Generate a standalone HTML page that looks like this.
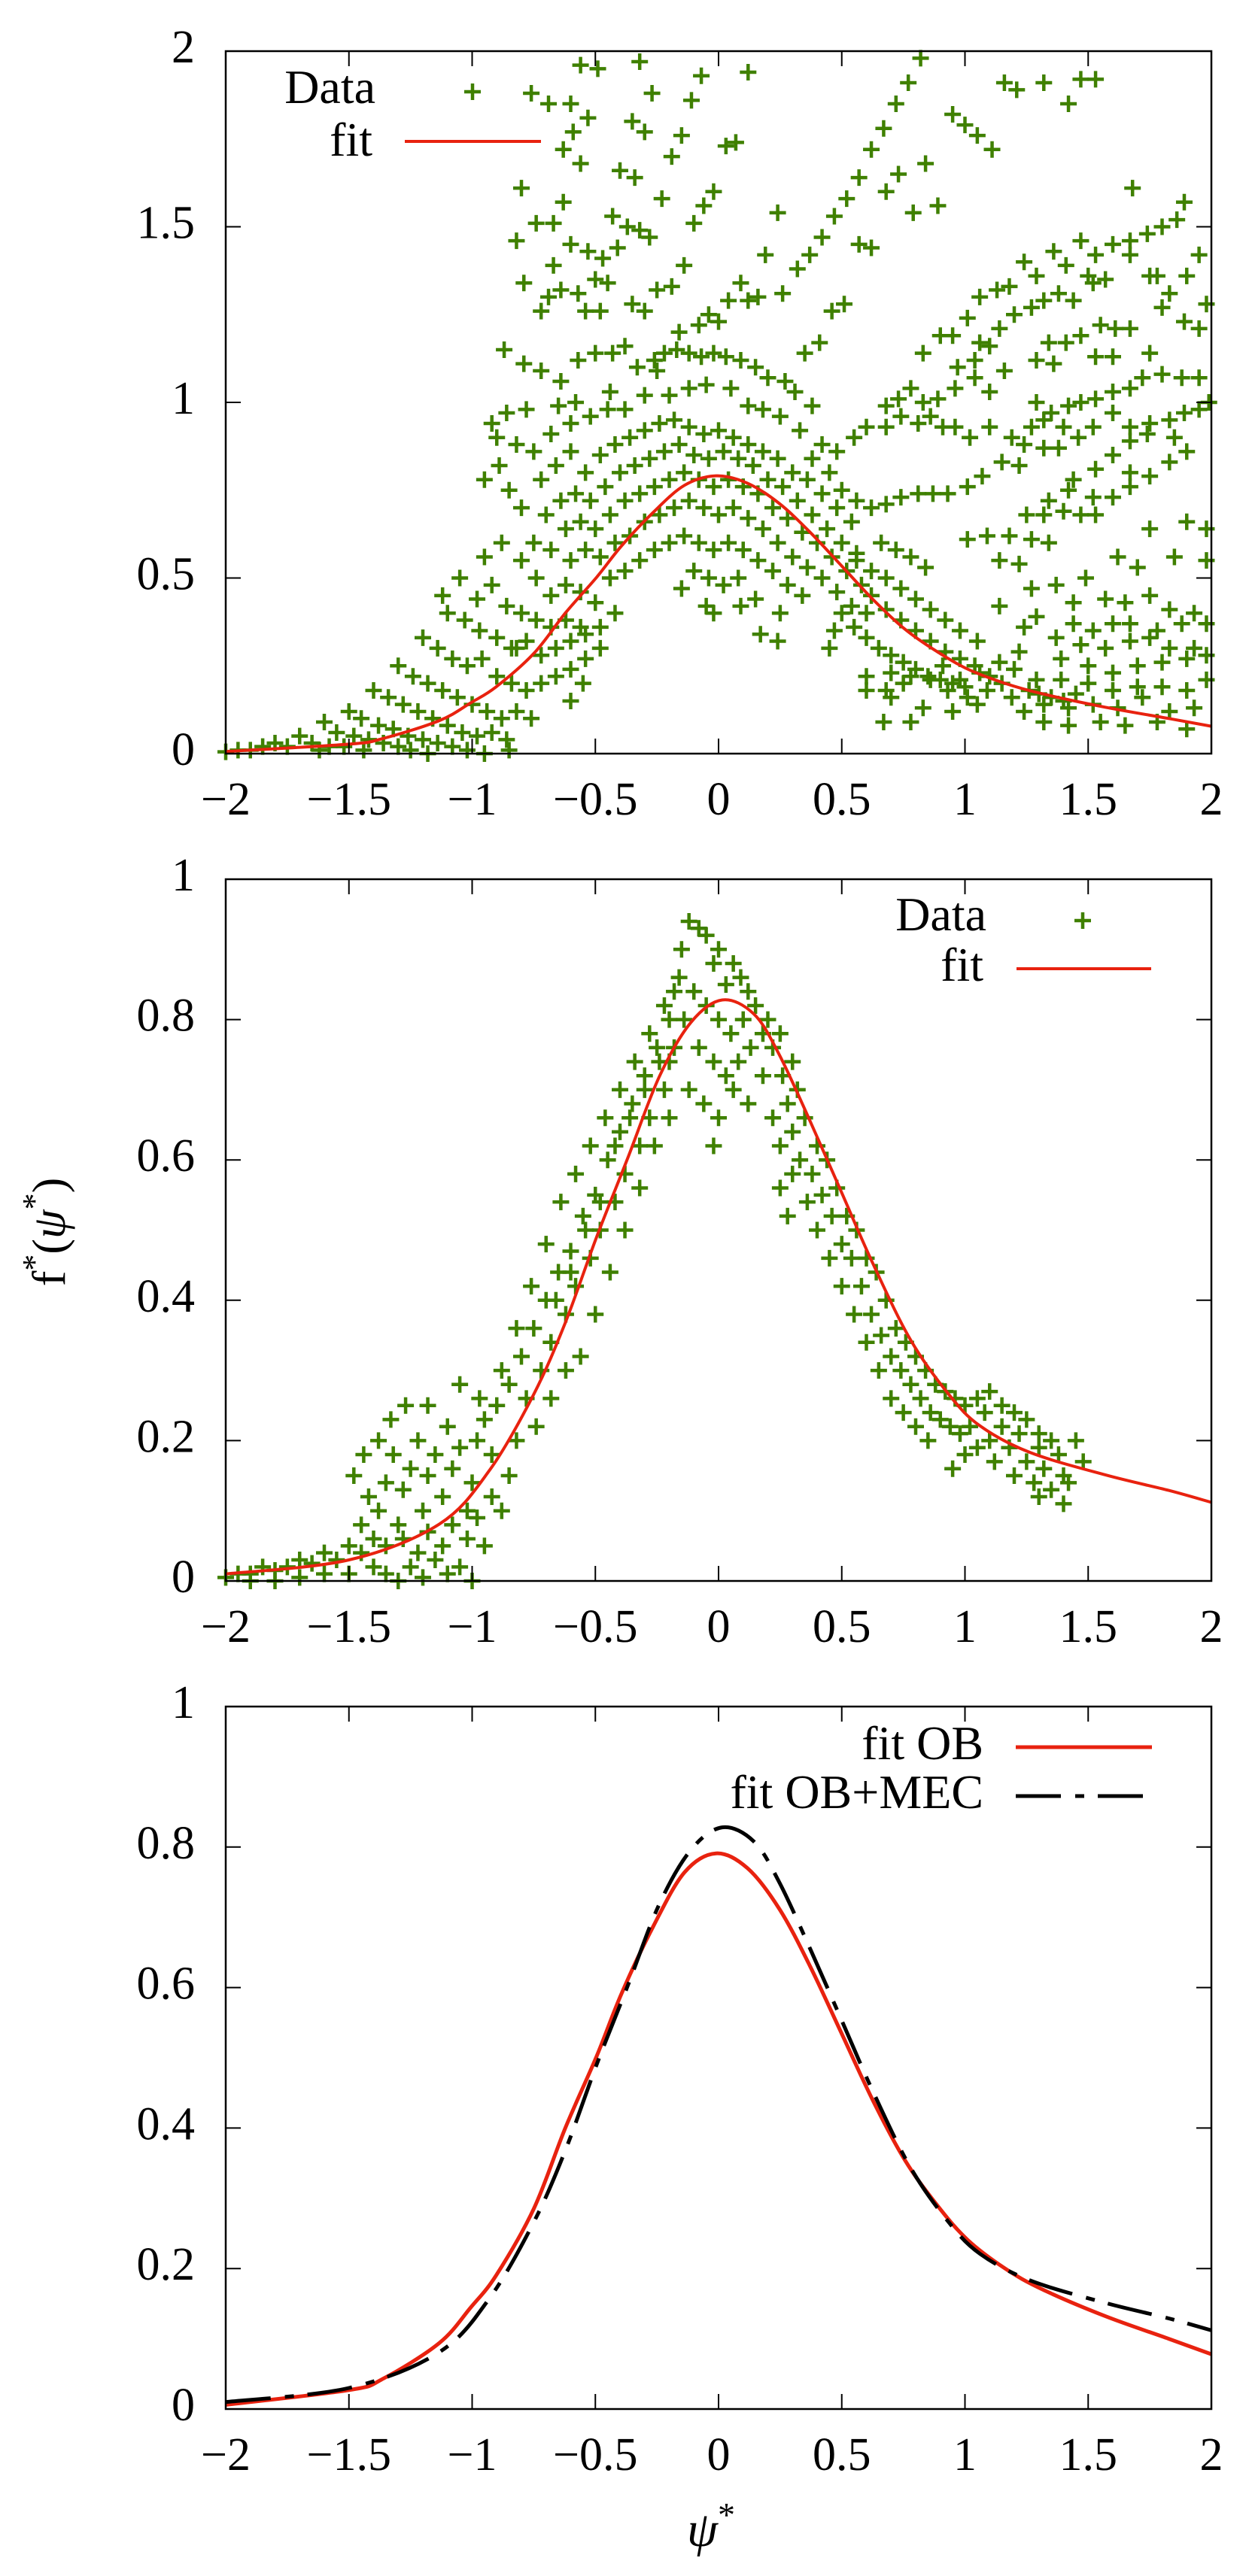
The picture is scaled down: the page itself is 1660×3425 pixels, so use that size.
<!DOCTYPE html>
<html>
<head>
<meta charset="utf-8">
<style>
  html, body { margin: 0; padding: 0; background: #fff; }
  svg { display: block; }
  text { font-family: "Liberation Serif", "DejaVu Serif", serif; fill: #000; }
</style>
</head>
<body>
<svg id="fig" width="1660" height="3425" viewBox="0 0 1660 3425" xmlns="http://www.w3.org/2000/svg">
  <rect x="0" y="0" width="1660" height="3425" fill="#fff"/>
  <g id="p1"></g>
  <g id="p2"></g>
  <g id="p3"></g>
  <text x="72" y="1638" font-size="62" text-anchor="middle" dominant-baseline="middle" transform="rotate(-90 72 1638)">f<tspan font-size="44" dy="-22">*</tspan><tspan dy="22">(</tspan><tspan font-style="italic">ψ</tspan><tspan font-size="44" dy="-22">*</tspan><tspan dy="22">)</tspan></text>
  <text x="945" y="3385" font-size="66" text-anchor="middle" font-style="italic">ψ<tspan font-size="46" dy="-26" font-style="normal">*</tspan></text>
</svg>
<script>
// ---------- data ----------
const xTicks = [-2, -1.5, -1, -0.5, 0, 0.5, 1, 1.5, 2];
const xTickLabels = ["−2", "−1.5", "−1", "−0.5", "0", "0.5", "1", "1.5", "2"];
const yTicksTop = [0, 0.5, 1, 1.5, 2];
const yTickLabelsTop = ["0", "0.5", "1", "1.5", "2"];
const yTicksLow = [0, 0.2, 0.4, 0.6, 0.8, 1];
const yTickLabelsLow = ["0", "0.2", "0.4", "0.6", "0.8", "1"];

// fit OB curve samples
const fitOBx = [-2, -1.5, -1.362, -1.133, -1.005, -0.903, -0.75, -0.622, -0.495, -0.393, -0.265, -0.138, -0.01, 0.117, 0.245, 0.372, 0.5, 0.628, 0.755, 0.883, 1.01, 1.163, 1.316, 1.571, 1.827, 2];
const fitOBy = [0.006, 0.027, 0.043, 0.094, 0.145, 0.19, 0.285, 0.40, 0.502, 0.592, 0.687, 0.764, 0.791, 0.770, 0.713, 0.63, 0.534, 0.438, 0.355, 0.292, 0.241, 0.2, 0.17, 0.132, 0.10, 0.078];
// fit OB+MEC curve samples
const fitMECx = [-2, -1.5, -1.133, -0.929, -0.75, -0.622, -0.495, -0.367, -0.24, -0.112, 0.015, 0.143, 0.245, 0.372, 0.5, 0.628, 0.78, 0.934, 1.061, 1.265, 1.571, 1.827, 2];
const fitMECy = [0.01, 0.03, 0.081, 0.158, 0.266, 0.368, 0.49, 0.604, 0.719, 0.796, 0.828, 0.808, 0.751, 0.655, 0.553, 0.451, 0.343, 0.266, 0.221, 0.183, 0.151, 0.129, 0.112];

// panel 1 data points [x, y]
const data1 = [
[-0.76,1.88],[-0.69,1.85],[-0.60,1.85],[-0.56,1.96],[-0.49,1.95],[-0.32,1.97],[-0.53,1.81],[-0.59,1.77],[-0.63,1.72],[-0.56,1.68],[-0.35,1.80],[-0.30,1.77],[-0.15,1.76],[-0.19,1.70],[-0.27,1.88],[-0.11,1.86],[-0.07,1.93],[0.12,1.94],[-0.40,1.66],[-0.34,1.64],[-0.80,1.61],[-0.63,1.57],[-0.74,1.51],[-0.67,1.51],[-0.82,1.46],[-0.60,1.45],[-0.53,1.43],[-0.47,1.41],[-0.41,1.44],[-0.67,1.39],[-0.79,1.34],[-0.69,1.30],[-0.64,1.32],[-0.57,1.31],[-0.50,1.35],[-0.45,1.34],[-0.72,1.26],[-0.54,1.26],[-0.48,1.26],[-0.43,1.53],[-0.37,1.50],[-0.32,1.49],[-0.28,1.47],[-0.23,1.58],[-0.10,1.51],[-0.06,1.56],[-0.02,1.60],[-0.14,1.39],[-0.25,1.32],[-0.19,1.33],[-0.35,1.28],[-0.30,1.26],[0.03,1.73],[0.07,1.74],[0.09,1.34],[0.04,1.29],[0.12,1.29],[0.16,1.30],[0.19,1.42],[0.26,1.31],[0.24,1.54],[0.32,1.38],[0.37,1.42],[0.42,1.47],[0.47,1.53],[0.52,1.58],[0.57,1.64],[0.62,1.72],[0.67,1.78],[0.72,1.85],[0.77,1.91],[0.82,1.98],[0.46,1.26],[0.51,1.28],[0.35,1.14],[0.41,1.17],[0.57,1.45],[0.62,1.44],[0.68,1.60],[0.73,1.65],[0.79,1.54],[0.84,1.68],[0.89,1.56],[0.95,1.82],[1.0,1.79],[1.05,1.76],[1.11,1.72],[1.16,1.91],[1.21,1.89],[1.32,1.91],[1.42,1.85],[1.47,1.92],[1.53,1.92],[1.68,1.61],
[1.06,1.30],[1.13,1.32],[1.18,1.33],[1.24,1.40],[1.29,1.36],[1.36,1.43],[1.41,1.39],[1.47,1.46],[1.53,1.42],[1.60,1.45],[1.67,1.46],[1.74,1.48],[1.80,1.50],[1.86,1.52],[1.89,1.57],[1.95,1.42],[1.98,1.28],[1.90,1.36],[1.78,1.36],[1.67,1.42],[1.57,1.35],[1.52,1.34],
[0.83,1.14],[0.90,1.19],[0.95,1.19],[1.01,1.24],[1.06,1.17],[1.10,1.16],[1.14,1.21],[1.20,1.25],[1.27,1.27],[1.32,1.29],[1.38,1.31],[1.44,1.29],[1.50,1.36],[1.55,1.22],[1.61,1.21],[1.67,1.21],[1.75,1.14],[1.83,1.31],[1.89,1.23],[1.95,1.21],[1.80,1.27],[1.75,1.36],
[0.68,0.99],[0.73,1.01],[0.78,1.04],[0.83,1.00],[0.89,1.01],[0.96,1.04],[1.04,1.07],[1.10,1.03],[0.97,1.10],[1.04,1.12],[1.16,1.09],[1.29,1.00],[1.35,0.97],[1.42,0.99],[1.47,1.00],[1.53,1.01],[1.60,1.03],[1.67,1.04],[1.72,1.07],[1.80,1.08],[1.88,1.07],[1.95,1.07],[1.99,1.00],[1.34,1.17],[1.41,1.17],[1.47,1.19],[1.53,1.13],[1.60,1.13],[1.29,1.12],[1.36,1.11],
[0.55,0.90],[0.60,0.93],[0.68,0.93],[0.74,0.96],[0.81,0.94],[0.86,0.96],[0.91,0.93],[0.96,0.93],[1.02,0.90],[1.10,0.93],[1.19,0.90],[1.27,0.93],[1.32,0.95],[1.40,0.93],[1.46,0.90],[1.52,0.93],[1.60,0.97],[1.67,0.93],[1.75,0.94],[1.83,0.95],[1.89,0.97],[1.95,0.98],[1.67,0.89],[1.74,0.91],[1.85,0.90],[1.90,0.86],[1.24,0.88],[1.32,0.87],[1.38,0.87],[1.15,0.83],[1.22,0.82],[1.07,0.79],[1.01,0.76],[0.93,0.74],[0.87,0.74],[0.81,0.74],[0.74,0.73],[0.68,0.71],[1.44,0.78],[1.53,0.81],[1.60,0.85],[1.67,0.80],[1.75,0.79],[1.83,0.83],[1.52,0.73],[1.60,0.73],[1.67,0.76],[1.42,0.75],[1.34,0.72],[1.32,0.68],[1.25,0.68],[1.40,0.69],[1.47,0.68],[1.53,0.68],[1.90,0.66],[1.98,0.64],[1.75,0.64],
[1.01,0.61],[1.09,0.62],[1.18,0.62],[1.27,0.61],[1.34,0.60],[1.14,0.55],[1.22,0.54],[1.62,0.56],[1.70,0.53],[1.85,0.56],[1.98,0.55],[1.49,0.50],[1.27,0.47],[1.37,0.48],[1.44,0.43],[1.57,0.44],[1.65,0.43],[1.75,0.45],[1.83,0.41],[1.93,0.40],[1.98,0.37],[1.29,0.39],[1.14,0.42],[1.24,0.36],[1.44,0.37],[1.52,0.35],[1.60,0.37],[1.67,0.37],[1.78,0.35],[1.88,0.37],[1.37,0.33],[1.47,0.31],[1.57,0.30],[1.67,0.32],[1.75,0.33],[1.83,0.30],[1.93,0.30],[1.39,0.27],[1.50,0.25],[1.60,0.23],[1.70,0.25],[1.80,0.26],[1.90,0.27],[1.98,0.28],[1.29,0.21],[1.39,0.21],[1.50,0.20],[1.60,0.18],[1.70,0.19],[1.80,0.19],[1.90,0.18],[1.98,0.21],[1.32,0.14],[1.42,0.13],[1.52,0.14],[1.62,0.13],[1.72,0.16],[1.83,0.12],[1.93,0.13],[1.42,0.08],[1.55,0.09],[1.65,0.08],[1.78,0.09],[1.90,0.07],[1.19,0.16],[1.24,0.12],[1.32,0.09],[1.09,0.18],[1.01,0.16],[0.93,0.18],[0.86,0.21],[0.78,0.22],[0.70,0.23],[0.60,0.22],[0.68,0.18],[0.60,0.18],[0.67,0.09],[0.78,0.09],[0.83,0.13],[0.98,0.21],[1.06,0.23],[0.91,0.25],[1.14,0.26],[1.22,0.29],
[-0.87,1.15],[-0.79,1.11],[-0.72,1.09],[-0.64,1.06],[-0.57,1.12],[-0.50,1.14],[-0.43,1.14],[-0.38,1.16],[-0.33,1.10],[-0.26,1.12],[-0.22,1.14],[-0.17,1.15],[-0.12,1.14],[-0.07,1.13],[-0.02,1.14],[0.03,1.13],[0.09,1.12],[0.15,1.10],[0.20,1.07],[0.27,1.06],[0.31,1.03],[0.38,0.99],[-0.08,1.22],[-0.04,1.25],[0.0,1.23],[-0.16,1.20],[-0.25,1.09],[-0.44,1.03],[-0.58,1.00],[-0.65,0.99],[-0.78,0.98],[-0.86,0.97],[-0.92,0.94],[-0.90,0.90],[-0.82,0.88],[-0.75,0.86],[-0.68,0.91],[-0.60,0.94],[-0.52,0.96],[-0.45,0.98],[-0.38,0.98],[-0.30,1.02],[-0.20,1.02],[-0.12,1.04],[-0.05,1.05],[0.05,1.04],[0.12,0.99],[0.18,0.98],[0.25,0.96],[0.33,0.92],[0.42,0.88],[0.48,0.86],
[-0.95,0.78],[-0.89,0.82],[-0.85,0.75],[-0.80,0.70],[-0.72,0.78],[-0.66,0.82],[-0.60,0.86],[-0.54,0.80],[-0.48,0.85],[-0.42,0.88],[-0.36,0.90],[-0.30,0.92],[-0.24,0.94],[-0.18,0.95],[-0.12,0.93],[-0.06,0.91],[0.0,0.92],[0.06,0.90],[0.12,0.88],[0.18,0.86],[0.24,0.84],[0.30,0.80],[0.36,0.78],[0.42,0.74],[0.48,0.70],[0.54,0.66],
[-0.70,0.68],[-0.64,0.72],[-0.58,0.74],[-0.52,0.72],[-0.46,0.76],[-0.40,0.80],[-0.34,0.82],[-0.28,0.84],[-0.22,0.86],[-0.16,0.88],[-0.10,0.85],[-0.04,0.84],[0.02,0.86],[0.08,0.84],[0.14,0.82],[0.20,0.78],[0.26,0.76],[0.32,0.72],[0.38,0.68],[0.44,0.64],[0.50,0.60],[0.56,0.57],
[-0.75,0.60],[-0.68,0.58],[-0.62,0.64],[-0.56,0.66],[-0.50,0.64],[-0.44,0.68],[-0.38,0.72],[-0.32,0.74],[-0.26,0.76],[-0.20,0.78],[-0.14,0.80],[-0.08,0.78],[-0.02,0.76],[0.04,0.78],[0.10,0.76],[0.16,0.74],[0.22,0.70],[0.28,0.67],[0.34,0.63],[0.40,0.60],[0.46,0.56],[0.52,0.52],[0.58,0.48],
[-0.60,0.55],[-0.54,0.58],[-0.48,0.56],[-0.42,0.60],[-0.36,0.62],[-0.30,0.66],[-0.24,0.68],[-0.18,0.70],[-0.12,0.72],[-0.06,0.70],[0.00,0.68],[0.06,0.70],[0.12,0.67],[0.18,0.64],[0.24,0.60],[0.30,0.56],[0.36,0.53],[0.42,0.50],[0.48,0.46],[0.54,0.42],[0.60,0.40],
[-0.44,0.50],[-0.38,0.52],[-0.32,0.55],[-0.26,0.58],[-0.20,0.60],[-0.14,0.62],[-0.08,0.60],[-0.02,0.58],[0.04,0.60],[0.10,0.58],[0.16,0.55],[0.22,0.52],[0.28,0.48],[0.34,0.45],[-0.10,0.52],[-0.04,0.50],[0.02,0.48],[0.08,0.50],[-0.02,0.40],[0.09,0.42],[0.15,0.44],[0.17,0.34],[0.25,0.40],[0.24,0.32],[-0.15,0.47],[-0.05,0.42],
[-0.95,0.56],[-0.88,0.60],[-0.80,0.55],[-0.74,0.50],[-0.68,0.45],[-0.62,0.48],[-0.56,0.46],[-0.50,0.43],[-1.05,0.50],[-0.98,0.44],[-0.92,0.48],[-0.86,0.42],[-0.80,0.40],[-0.74,0.38],[-0.68,0.36],[-0.62,0.38],[-0.56,0.36],[-1.10,0.40],[-1.03,0.38],[-0.97,0.35],[-0.90,0.33],[-0.84,0.30],[-0.78,0.32],[-0.72,0.28],[-0.66,0.30],[-0.60,0.32],[-0.54,0.34],[-0.48,0.36],[-1.20,0.33],[-1.14,0.30],[-1.08,0.27],[-1.02,0.25],[-0.96,0.27],[-0.90,0.22],[-0.84,0.20],[-0.78,0.18],[-0.72,0.20],[-0.66,0.22],[-0.60,0.24],[-0.54,0.27],[-0.48,0.30],[-0.42,0.40],[-1.30,0.25],[-1.24,0.22],[-1.18,0.20],[-1.12,0.18],[-1.06,0.16],[-1.00,0.14],[-0.94,0.12],[-0.88,0.10],[-0.82,0.12],[-0.76,0.10],[-1.40,0.18],[-1.34,0.16],[-1.28,0.14],[-1.22,0.12],[-1.16,0.10],[-1.10,0.08],[-1.04,0.06],[-0.98,0.05],[-0.92,0.06],[-0.86,0.04],[-1.50,0.12],[-1.45,0.10],[-1.38,0.08],[-1.32,0.07],[-1.26,0.05],[-1.20,0.04],[-1.14,0.03],[-1.08,0.02],[-1.02,0.01],[-1.60,0.09],[-1.55,0.06],[-1.48,0.05],[-1.42,0.04],[-1.36,0.03],[-1.30,0.02],[-1.70,0.05],[-1.65,0.03],[-1.58,0.02],[-1.52,0.02],[-1.80,0.03],[-1.75,0.02],[-1.85,0.02],[-1.90,0.01],[-1.95,0.01],[-2.0,0.005],[-1.62,0.01],[-1.44,0.01],[-1.25,0.01],[-1.18,0.0],[-0.95,0.0],[-0.85,0.01],[-0.82,0.30],[-1.12,0.45],[-0.55,0.20],[-0.60,0.15],
[0.55,0.36],[0.60,0.33],[0.65,0.30],[0.70,0.28],[0.75,0.26],[0.80,0.24],[0.85,0.22],[0.90,0.21],[0.95,0.20],[1.00,0.19],[0.62,0.45],[0.68,0.41],[0.74,0.38],[0.80,0.35],[0.86,0.32],[0.92,0.29],[0.98,0.27],[1.04,0.25],[0.56,0.55],[0.62,0.52],[0.68,0.50],[0.74,0.47],[0.80,0.44],[0.86,0.41],[0.92,0.38],[0.98,0.35],[1.05,0.32],[0.66,0.60],[0.72,0.58],[0.78,0.56],[0.84,0.53],[0.50,0.75],[0.56,0.72],[0.62,0.70],[0.45,0.80],[0.38,0.84],[0.50,0.40],[0.45,0.30],[0.47,0.35],[0.70,0.16],[0.75,0.20],[1.10,0.22],[1.15,0.20],[1.20,0.24],[1.26,0.18],[1.30,0.17],[1.35,0.16],[1.40,0.15],[1.45,0.17],[1.05,0.14],[0.95,0.12]
];

// panel 2 data points [x, y]
const data2 = [
[-2.0,0.005],[-1.95,0.01],[-1.9,0.01],[-1.85,0.02],[-1.8,0.015],[-1.75,0.02],[-1.7,0.03],[-1.65,0.025],[-1.6,0.04],[-1.55,0.03],[-1.5,0.05],[-1.45,0.04],[-1.9,0.0],[-1.8,0.0],[-1.7,0.005],[-1.6,0.01],[-1.5,0.01],[-1.4,0.02],[-1.35,0.01],[-1.3,0.0],[-1.25,0.02],[-1.2,0.005],[-1.15,0.03],[-1.1,0.01],[-1.05,0.02],[-1.0,0.0],
[-1.45,0.08],[-1.42,0.12],[-1.38,0.10],[-1.35,0.14],[-1.32,0.18],[-1.30,0.08],[-1.28,0.13],[-1.25,0.16],[-1.22,0.20],[-1.20,0.10],[-1.18,0.15],[-1.15,0.18],[-1.12,0.12],[-1.10,0.22],[-1.08,0.16],[-1.05,0.19],[-1.02,0.10],[-1.0,0.14],[-0.98,0.20],[-0.95,0.23],[-0.92,0.18],[-0.90,0.25],[-1.40,0.06],[-1.35,0.05],[-1.28,0.06],[-1.22,0.04],[-1.18,0.07],[-1.12,0.05],[-1.08,0.08],[-1.02,0.06],[-0.98,0.09],[-0.95,0.05],[-0.92,0.12],[-0.88,0.10],[-0.85,0.15],[-0.82,0.20],[-1.48,0.15],[-1.44,0.18],[-1.38,0.20],[-1.33,0.23],[-1.27,0.25],[-1.18,0.25],[-1.05,0.28],[-0.97,0.26],[-0.88,0.30],
[-0.85,0.28],[-0.80,0.32],[-0.78,0.26],[-0.75,0.36],[-0.72,0.30],[-0.70,0.40],[-0.68,0.34],[-0.65,0.44],[-0.62,0.38],[-0.60,0.47],[-0.58,0.42],[-0.55,0.52],[-0.52,0.46],[-0.50,0.55],[-0.48,0.50],[-0.45,0.60],[-0.42,0.54],[-0.40,0.64],[-0.38,0.58],[-0.35,0.68],[-0.32,0.62],[-0.30,0.72],[-0.28,0.66],[-0.25,0.76],[-0.22,0.70],[-0.20,0.80],[-0.82,0.36],[-0.76,0.42],[-0.70,0.48],[-0.64,0.54],[-0.58,0.58],[-0.52,0.62],[-0.46,0.66],[-0.40,0.70],[-0.34,0.74],[-0.28,0.78],[-0.22,0.82],[-0.16,0.86],[-0.74,0.22],[-0.68,0.26],[-0.62,0.30],[-0.56,0.32],[-0.50,0.38],[-0.44,0.44],[-0.38,0.50],[-0.32,0.56],[-0.26,0.62],[-0.20,0.66],[-0.66,0.40],[-0.60,0.44],[-0.54,0.50],[-0.48,0.54],[-0.42,0.62],[-0.36,0.66],[-0.30,0.70],[-0.24,0.74],[-0.18,0.76],
[-0.15,0.90],[-0.12,0.94],[-0.08,0.93],[-0.05,0.92],[-0.02,0.88],[0.0,0.90],[0.03,0.85],[0.06,0.88],[0.09,0.86],[0.12,0.84],[-0.10,0.84],[-0.05,0.82],[0.0,0.80],[0.05,0.78],[0.10,0.80],[0.15,0.82],[0.18,0.78],[-0.14,0.80],[-0.08,0.76],[-0.02,0.74],[0.03,0.72],[0.08,0.74],[0.13,0.76],[0.18,0.72],[0.22,0.76],[-0.12,0.70],[-0.06,0.68],[0.0,0.66],[0.06,0.70],[-0.02,0.62],[0.12,0.68],[0.20,0.80],[0.25,0.78],[0.26,0.72],[0.30,0.74],[0.32,0.70],[-0.18,0.84],[-0.20,0.74],
[0.22,0.66],[0.25,0.62],[0.28,0.68],[0.30,0.64],[0.33,0.60],[0.35,0.66],[0.38,0.58],[0.40,0.62],[0.42,0.55],[0.44,0.60],[0.46,0.52],[0.48,0.56],[0.50,0.48],[0.52,0.52],[0.54,0.46],[0.56,0.50],[0.58,0.42],[0.60,0.46],[0.62,0.38],[0.64,0.44],[0.66,0.35],[0.68,0.40],[0.70,0.32],[0.72,0.36],[0.74,0.30],[0.76,0.34],[0.78,0.28],[0.80,0.32],[0.82,0.26],[0.84,0.30],[0.86,0.24],[0.88,0.28],[0.90,0.23],[0.92,0.27],[0.94,0.22],[0.96,0.26],[0.98,0.21],[1.00,0.25],[0.36,0.54],[0.40,0.50],[0.45,0.46],[0.50,0.42],[0.55,0.38],[0.60,0.34],[0.65,0.30],[0.70,0.26],[0.75,0.24],[0.80,0.22],[0.85,0.20],[0.30,0.58],[0.25,0.56],[0.28,0.52],
[1.02,0.22],[1.05,0.19],[1.08,0.24],[1.10,0.20],[1.12,0.17],[1.15,0.22],[1.18,0.19],[1.20,0.15],[1.22,0.21],[1.25,0.17],[1.28,0.14],[1.30,0.19],[1.32,0.16],[1.35,0.13],[1.38,0.18],[1.40,0.15],[1.42,0.14],[1.45,0.20],[1.48,0.17],[1.05,0.26],[1.10,0.27],[1.15,0.25],[1.20,0.24],[1.25,0.23],[1.30,0.21],[1.35,0.20],[0.95,0.16],[1.00,0.18],[1.40,0.11],[1.30,0.12]
];

// ---------- rendering ----------
const NS = "http://www.w3.org/2000/svg";
const GREEN = "#3f8000", RED = "#e8220f";
const X0 = 300, X1 = 1610;
function mk(tag, attrs, parent) {
  const e = document.createElementNS(NS, tag);
  for (const k in attrs) e.setAttribute(k, attrs[k]);
  parent.appendChild(e);
  return e;
}
function xScale(v) { return X0 + (v + 2) / 4 * (X1 - X0); }
function makeY(top, bottom, ymax) { return v => bottom - v / ymax * (bottom - top); }

function smoothPath(xs, ys, sx, sy) {
  const P = xs.map((x, i) => [sx(x), sy(ys[i])]);
  let d = "M" + P[0][0].toFixed(1) + "," + P[0][1].toFixed(1);
  for (let i = 0; i < P.length - 1; i++) {
    const p0 = P[i - 1] || P[i], p1 = P[i], p2 = P[i + 1], p3 = P[i + 2] || P[i + 1];
    const c1x = p1[0] + (p2[0] - p0[0]) / 6, c1y = p1[1] + (p2[1] - p0[1]) / 6;
    const c2x = p2[0] - (p3[0] - p1[0]) / 6, c2y = p2[1] - (p3[1] - p1[1]) / 6;
    d += " C" + c1x.toFixed(1) + "," + c1y.toFixed(1) + " " + c2x.toFixed(1) + "," + c2y.toFixed(1) + " " + p2[0].toFixed(1) + "," + p2[1].toFixed(1);
  }
  return d;
}

function cross(g, cx, cy) {
  const p = mk("path", { d: `M${cx - 11},${cy}H${cx + 11}M${cx},${cy - 11}V${cy + 11}`, stroke: GREEN, "stroke-width": 4.5, fill: "none" }, g);
  
  
  return p;
}

function axes(g, top, bottom, ymax, yTicks, yLabels) {
  const sy = makeY(top, bottom, ymax);
  const fr = mk("rect", { x: X0, y: top, width: X1 - X0, height: bottom - top, fill: "none", stroke: "#000", "stroke-width": 2.5 }, g);
  
  
  xTicks.forEach((v, i) => {
    const x = xScale(v);
    if (i > 0 && i < xTicks.length - 1) {
      const t = mk("path", { d: `M${x},${bottom}V${bottom - 20}M${x},${top}V${top + 20}`, stroke: "#000", "stroke-width": 2 }, g);
      
      
    }
    const lb = mk("text", { x: x, y: bottom + 81, "font-size": 62, "text-anchor": "middle" }, g);
    lb.textContent = xTickLabels[i];
    
    
  });
  yTicks.forEach((v, i) => {
    const y = sy(v);
    if (i > 0 && i < yTicks.length - 1) {
      const t = mk("path", { d: `M${X0},${y}H${X0 + 20}M${X1},${y}H${X1 - 20}`, stroke: "#000", "stroke-width": 2 }, g);
      
      
    }
    const lb = mk("text", { x: 259, y: y + 15, "font-size": 62, "text-anchor": "end" }, g);
    lb.textContent = yLabels[i];
    
    
  });
  return sy;
}

function clipFor(id, top, bottom) {
  const defs = mk("defs", {}, document.getElementById("fig"));
  const cp = mk("clipPath", { id: id }, defs);
  mk("rect", { x: X0 - 12, y: top - 12, width: X1 - X0 + 24, height: bottom - top + 24 }, cp);
}

function legendText(g, x, y, s, name) {
  const t = mk("text", { x: x, y: y, "font-size": 64, "text-anchor": "end" }, g);
  t.textContent = s;
  
  
}

// Panel 1
(function () {
  const g = document.getElementById("p1");
  const top = 68, bottom = 1002;
  const sy = makeY(top, bottom, 2);
  clipFor("c1", top, bottom);
  const pts = mk("g", { "clip-path": "url(#c1)" }, g);
  
  
  data1.forEach(p => cross(pts, xScale(p[0]), sy(p[1])));
  const fit = mk("path", { d: smoothPath(fitOBx, fitOBy, xScale, sy), stroke: RED, "stroke-width": 4, fill: "none" }, g);
  
  
  axes(g, top, bottom, 2, yTicksTop, yTickLabelsTop);
  legendText(g, 499, 137, "Data", "legend-data-label");
  cross(g, 628, 122);
  legendText(g, 495, 207, "fit", "legend-fit-label");
  const ll = mk("path", { d: "M538,188H719", stroke: RED, "stroke-width": 4 }, g);
  
  
})();

// Panel 2
(function () {
  const g = document.getElementById("p2");
  const top = 1169, bottom = 2102;
  const sy = makeY(top, bottom, 1);
  clipFor("c2", top, bottom);
  const pts = mk("g", { "clip-path": "url(#c2)" }, g);
  
  
  data2.forEach(p => cross(pts, xScale(p[0]), sy(p[1])));
  const fit = mk("path", { d: smoothPath(fitMECx, fitMECy, xScale, sy), stroke: RED, "stroke-width": 4, fill: "none" }, g);
  
  
  axes(g, top, bottom, 1, yTicksLow, yTickLabelsLow);
  legendText(g, 1311, 1237, "Data", "legend-data-label");
  cross(g, 1439, 1224);
  legendText(g, 1307, 1304, "fit", "legend-fit-label");
  const ll = mk("path", { d: "M1351,1288H1530", stroke: RED, "stroke-width": 4 }, g);
  
  
})();

// Panel 3
(function () {
  const g = document.getElementById("p3");
  const top = 2269, bottom = 3203;
  const sy = makeY(top, bottom, 1);
  const ob = mk("path", { d: smoothPath(fitOBx, fitOBy, xScale, sy), stroke: RED, "stroke-width": 5, fill: "none" }, g);
  
  
  const mec = mk("path", { d: smoothPath(fitMECx, fitMECy, xScale, sy), stroke: "#000", "stroke-width": 5, fill: "none", "stroke-dasharray": "60 19 12 18" }, g);
  
  
  axes(g, top, bottom, 1, yTicksLow, yTickLabelsLow);
  legendText(g, 1307, 2339, "fit OB", "legend-ob-label");
  const l1 = mk("path", { d: "M1350,2323H1531", stroke: RED, "stroke-width": 5 }, g);
  
  
  legendText(g, 1307, 2404, "fit OB+MEC", "legend-ob-mec-label");
  const l2 = mk("path", { d: "M1350,2388H1531", stroke: "#000", "stroke-width": 5, "stroke-dasharray": "60 19 12 18" }, g);
  
  
})();
</script>
</body>
</html>
